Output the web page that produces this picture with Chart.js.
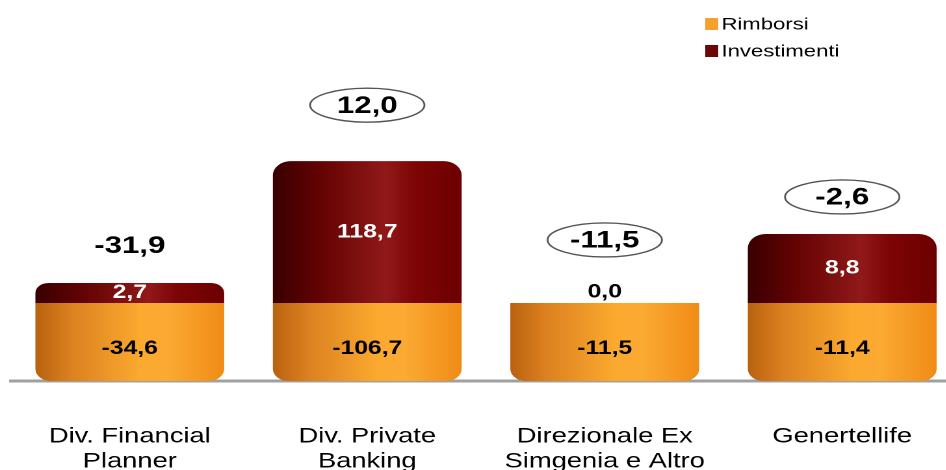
<!DOCTYPE html>
<html>
<head>
    <title>Rimborsi e Investimenti</title>
    <script src="https://cdn.jsdelivr.net/npm/chart.js"></script>
    <style>
        html, body { margin: 0; padding: 0; background: #fff; overflow: hidden; }
        /* the original picture is stretched sideways, so the whole chart is too */
        #wrap { position: absolute; left: 0; top: 0; width: 740px; height: 474px; transform: scaleX(1.3); transform-origin: 0 0; }
    </style>
</head>
<body>
    <div id="wrap"><canvas id="flowChart"></canvas></div>

    <script>
        const categories = [['Div. Financial', 'Planner'], ['Div. Private', 'Banking'], ['Direzionale Ex', 'Simgenia e Altro'], ['Genertellife']];
        const rimborsi = [-34.6, -106.7, -11.5, -11.4];
        const investimenti = [2.7, 118.7, 0.0, 8.8];
        const totali = [-31.9, 12.0, -11.5, -2.6];
        const totaleCerchiato = [false, true, true, true];

        // bars in the picture are not to scale: segment heights as read off it
        const rimborsiHeight = [35, 35, 35, 35];
        const investimentiHeight = [9.0, 63.7, 0, 31.0];
        const totalLevel = [60.8, 123.8, 63.3, 82.6];

        const barPct = 0.795;
        const orangeStops = [[0, '#b8620f'], [0.18, '#db8020'], [0.55, '#fba92f'], [0.7, '#fbaa33'], [1, '#f08c16']];
        const redStops = [[0, '#3a0000'], [0.25, '#640303'], [0.6, '#911919'], [0.75, '#7e0505'], [1, '#6c0000']];

        function fmt(v) {
            return v.toFixed(1).replace('.', ',');
        }

        function barGradient(context, stops) {
            const chart = context.chart;
            const area = chart.chartArea;
            if (!area || !chart.scales.x) return stops[2][1];
            const cx = chart.scales.x.getPixelForValue(context.dataIndex);
            const half = (area.right - area.left) / categories.length * barPct / 2;
            const g = chart.ctx.createLinearGradient(cx - half, 0, cx + half, 0);
            stops.forEach(s => g.addColorStop(s[0], s[1]));
            return g;
        }

        // value labels, circled totals and the legend
        const labelPlugin = {
            id: 'labels',
            afterDatasetsDraw(chart) {
                const ctx = chart.ctx;
                const y = chart.scales.y;
                const rBars = chart.getDatasetMeta(0).data;
                const iBars = chart.getDatasetMeta(1).data;
                ctx.save();
                ctx.textAlign = 'center';
                ctx.textBaseline = 'middle';
                ctx.font = 'bold 19px Arial';

                rBars.forEach((el, i) => {
                    ctx.fillStyle = '#000';
                    ctx.fillText(fmt(rimborsi[i]), el.x, (el.y + el.base) / 2 + 7);
                    const top = iBars[i];
                    if (investimentiHeight[i] > 0) {
                        ctx.fillStyle = '#fff';
                        ctx.fillText(fmt(investimenti[i]), top.x, (top.y + top.base) / 2);
                    } else {
                        ctx.fillStyle = '#000';
                        ctx.fillText(fmt(investimenti[i]), el.x, el.y - 11);
                    }
                });

                ctx.font = 'bold 24px Arial';
                totali.forEach((t, i) => {
                    const cx = rBars[i].x;
                    const cy = y.getPixelForValue(totalLevel[i]);
                    if (totaleCerchiato[i]) {
                        ctx.beginPath();
                        ctx.ellipse(cx, cy, 44, 17, 0, 0, Math.PI * 2);
                        ctx.fillStyle = '#fff';
                        ctx.fill();
                        ctx.lineWidth = 1.4;
                        ctx.strokeStyle = '#555';
                        ctx.stroke();
                    }
                    ctx.fillStyle = '#000';
                    ctx.fillText(fmt(t), cx, cy + 1);
                });

                // legend
                ctx.textAlign = 'left';
                ctx.font = '17px Arial';
                const items = [['Rimborsi', '#f6a030'], ['Investimenti', '#6a0808']];
                items.forEach((it, k) => {
                    const cy = 24 + k * 27;
                    ctx.fillStyle = it[1];
                    ctx.fillRect(542.5, cy - 6, 10, 12);
                    ctx.fillStyle = '#000';
                    ctx.fillText(it[0], 555, cy + 1);
                });
                ctx.restore();
            }
        };

        const ctx = document.getElementById('flowChart').getContext('2d');
        const chart = new Chart(ctx, {
            type: 'bar',
            data: {
                labels: categories,
                datasets: [
                    {
                        label: 'Rimborsi',
                        data: rimborsiHeight,
                        backgroundColor: c => barGradient(c, orangeStops),
                        borderSkipped: false,
                        borderRadius: { topLeft: 0, topRight: 0, bottomLeft: 12, bottomRight: 12 },
                        barPercentage: barPct,
                        categoryPercentage: 1
                    },
                    {
                        label: 'Investimenti',
                        data: investimentiHeight,
                        backgroundColor: c => barGradient(c, redStops),
                        borderSkipped: false,
                        borderRadius: { topLeft: 14, topRight: 14, bottomLeft: 0, bottomRight: 0 },
                        barPercentage: barPct,
                        categoryPercentage: 1
                    }
                ]
            },
            options: {
                responsive: true,
                maintainAspectRatio: false,
                animation: false,
                devicePixelRatio: 2,
                layout: { padding: { left: 8.5, right: 0.8, top: 0, bottom: 0 } },
                plugins: {
                    legend: { display: false },
                    tooltip: { enabled: false }
                },
                scales: {
                    x: {
                        stacked: true,
                        grid: { display: false },
                        border: { display: true, color: '#a0a0a0', width: 3 },
                        ticks: {
                            color: '#000',
                            font: { family: 'Arial', size: 21 },
                            padding: 35,
                            maxRotation: 0,
                            autoSkip: false
                        },
                        afterFit(scale) {
                            // keep the axis band and side padding as in the picture
                            scale.height = 93;
                            scale.paddingLeft = 0;
                            scale.paddingRight = 0;
                        }
                    },
                    y: {
                        stacked: true,
                        display: false,
                        min: 0,
                        max: 171
                    }
                }
            },
            plugins: [labelPlugin]
        });
    </script>
</body>
</html>
